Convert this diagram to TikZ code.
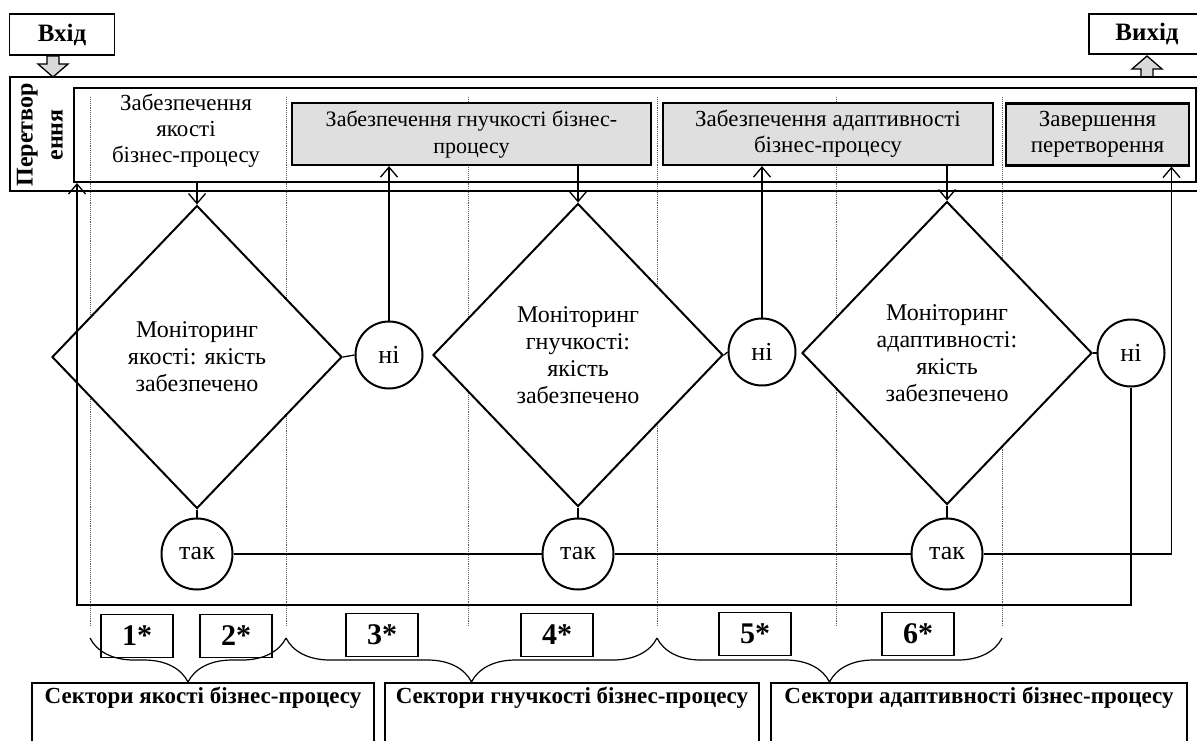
\documentclass[tikz,border=0pt]{standalone}
\usepackage{fontspec}
\setmainfont{Liberation Serif}
\usetikzlibrary{positioning,shapes.geometric,decorations.pathreplacing,arrows.meta}

\begin{document}
\begin{tikzpicture}[x=1pt,y=-1pt,
every node/.style={font=\fontsize{23}{26}\selectfont},
frame/.style={draw,rectangle,line width=1.6pt},
stage/.style={draw,rectangle,fill=gray!25,line width=2.2pt,minimum height=62,align=center,inner sep=2pt},
check/.style={diamond,draw,fill=white,line width=2pt,minimum width=290,minimum height=303,align=center,inner sep=0pt,font=\fontsize{24}{27}\selectfont},
answer/.style={circle,draw,fill=white,line width=2pt,inner sep=0pt,font=\fontsize{26}{28}\selectfont},
numbox/.style={draw,rectangle,line width=1.8pt,minimum width=72,minimum height=43,font=\fontsize{30}{34}\selectfont\bfseries},
sectorbox/.style={draw,rectangle,line width=1.8pt,anchor=north,minimum height=100},
blockarrow/.style={draw,fill=gray!30,line width=1.3pt,line join=miter},
wire/.style={line width=1.3pt},
arr/.style={wire,-{Straight Barb[length=10pt,width=17pt]}},
divider/.style={densely dotted,line width=0.9pt,gray!70!black},
brace/.style={line width=1.2pt,decorate,decoration={brace,amplitude=44pt,mirror}}]
\useasboundingbox (0,0) rectangle (1197,740);

% dotted sector borders
\foreach \x [count=\i] in {90,286,468,657,836,1002} {
  \draw[divider] (\x,97) coordinate (dtop\i) -- (\x,627) coordinate (dbot\i);
  \coordinate (bend\i) at (\x,638);
}

% input / output
\node (inbox) [frame,minimum width=105,minimum height=41,font=\fontsize{25}{28}\selectfont\bfseries] at (62,34.5) {Вхід};
\node (outbox) [frame,minimum width=116,minimum height=40,font=\fontsize{25}{28}\selectfont\bfseries] at (1147,34) {Вихід};
\coordinate (inpt) at (53,56);
\coordinate (outpt) at (1147,77);
\draw[blockarrow] (inpt) ++(-6,0) -- ++(0,8) -- ++(-9,0) -- ++(15,13) -- ++(15,-13) -- ++(-9,0) -- ++(0,-8) -- cycle;
\draw[blockarrow] (outpt) ++(-6,0) -- ++(0,-8) -- ++(-9,0) -- ++(15,-13) -- ++(15,13) -- ++(-9,0) -- ++(0,8) -- cycle;

% transformation frame
\node (outer) [frame,minimum width=1200,minimum height=114] at (610,134) {};
\node (inner) [frame,line width=2pt,minimum width=1122,minimum height=94] at (635,135) {};
\node (trans) [rotate=90,align=center,font=\fontsize{24}{30}\selectfont\bfseries] at (40,135) {Перетвор\\ення};

\node (quality) [align=center] at (186,131) {Забезпечення\\якості\\бізнес-процесу};
\node (flex) [stage,minimum width=359,font=\fontsize{22}{27}\selectfont] at (471.5,134) {Забезпечення гнучкості бізнес-\\процесу};
\node (adapt) [stage,minimum width=330] at (828,134) {Забезпечення адаптивності\\бізнес-процесу};
\node (finish) [stage,minimum width=183] at (1097.5,134.5) {Завершення\\перетворення};

% monitoring
\node (m1) [check] at (197,357) {Моніторинг\\якості: якість\\забезпечено};
\node (m2) [check] at (578,355) {Моніторинг\\гнучкості:\\якість\\забезпечено};
\node (m3) [check] at (947,353) {Моніторинг\\адаптивності:\\якість\\забезпечено};

\node (n1) [answer,minimum size=67] at (389,355) {ні};
\node (n2) [answer,minimum size=67] at (762,352) {ні};
\node (n3) [answer,minimum size=67] at (1131,353) {ні};

\node (y1) [answer,minimum size=71] at (197,554) {так};
\node (y2) [answer,minimum size=71] at (578,554) {так};
\node (y3) [answer,minimum size=71] at (947,554) {так};

\draw[arr] (m1.north |- inner.south) -- (m1.north);
\draw[wire] (m1.east) -- (n1.west);
\draw[arr] (n1.north) -- (n1.north |- flex.south);
\draw[arr] (m2.north |- flex.south) -- (m2.north);
\draw[wire] (m2.east) -- (n2.west);
\draw[arr] (n2.north) -- (n2.north |- adapt.south);
\draw[arr] (m3.north |- adapt.south) -- (m3.north);
\draw[wire] (m3.east) -- (n3.west);

\draw[wire] (m1.south) -- (y1.north);
\draw[wire] (m2.south) -- (y2.north);
\draw[wire] (m3.south) -- (y3.north);
\draw[wire] (y1.east) -- (y2.west);
\draw[wire] (y2.east) -- (y3.west);
\draw[arr] (y3.east) -| ([xshift=74pt]finish.south);

\coordinate (loop) at (77,605);
\draw[arr] (n3.south) |- (loop) -- (loop |- inner.south);

% sectors
\node (s1) [numbox] at (137,636) {1*};
\node (s2) [numbox] at (236,636) {2*};
\node (s3) [numbox] at (382,635) {3*};
\node (s4) [numbox] at (557,635) {4*};
\node (s5) [numbox] at (755,634) {5*};
\node (s6) [numbox] at (918,634) {6*};

\draw[brace] (bend1) -- (bend2);
\draw[brace] (bend2) -- (bend4);
\draw[brace] (bend4) -- (bend6);

\node (g1) [sectorbox,minimum width=342,
    label={[anchor=north,yshift=-1pt,font=\fontsize{23}{26}\selectfont\bfseries]north:Сектори якості бізнес-процесу}] at (203,682) {};
\node (g2) [sectorbox,minimum width=374,
    label={[anchor=north,yshift=-1pt,font=\fontsize{23}{26}\selectfont\bfseries]north:Сектори гнучкості бізнес-процесу}] at (572,682) {};
\node (g3) [sectorbox,minimum width=416,
    label={[anchor=north,yshift=-1pt,font=\fontsize{23}{26}\selectfont\bfseries]north:Сектори адаптивності бізнес-процесу}] at (979,682) {};
\end{tikzpicture}
\end{document}
